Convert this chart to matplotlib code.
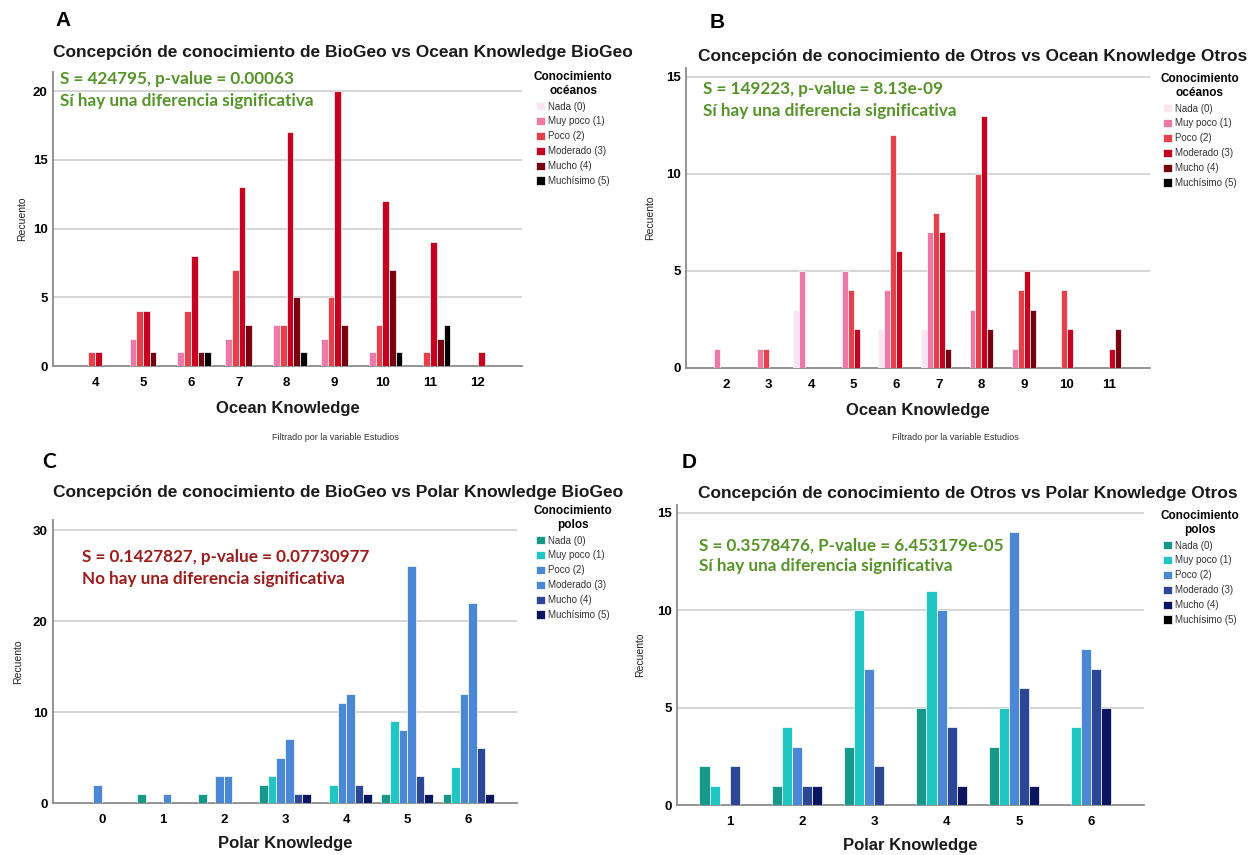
import matplotlib
matplotlib.use("Agg")
import matplotlib.pyplot as plt
import numpy as np

plt.rcParams['font.family'] = ['Liberation Sans', 'DejaVu Sans']

# categories of the legend (same six levels in every panel)
levels = ['Nada (0)', 'Muy poco (1)', 'Poco (2)', 'Moderado (3)', 'Mucho (4)', 'Muchísimo (5)']

# A - BioGeo vs Ocean Knowledge
a_x = [4, 5, 6, 7, 8, 9, 10, 11, 12]
a_nada = [0, 0, 0, 0, 0, 0, 0, 0, 0]
a_muypoco = [0, 2, 1, 2, 3, 2, 1, 0, 0]
a_poco = [1, 4, 4, 7, 3, 5, 3, 1, 0]
a_moderado = [1, 4, 8, 13, 17, 20, 12, 9, 1]
a_mucho = [0, 1, 1, 3, 5, 3, 7, 2, 0]
a_muchisimo = [0, 0, 1, 0, 1, 0, 1, 3, 0]

# B - Otros vs Ocean Knowledge
b_x = [2, 3, 4, 5, 6, 7, 8, 9, 10, 11]
b_nada = [0, 0, 3, 0, 2, 2, 0, 0, 0, 0]
b_muypoco = [1, 1, 5, 5, 4, 7, 3, 1, 0, 0]
b_poco = [0, 1, 0, 4, 12, 8, 10, 4, 4, 0]
b_moderado = [0, 0, 0, 2, 6, 7, 13, 5, 2, 1]
b_mucho = [0, 0, 0, 0, 0, 1, 2, 3, 0, 2]
b_muchisimo = [0, 0, 0, 0, 0, 0, 0, 0, 0, 0]

# C - BioGeo vs Polar Knowledge
c_x = [0, 1, 2, 3, 4, 5, 6]
c_nada = [0, 1, 1, 2, 0, 1, 1]
c_muypoco = [0, 0, 0, 3, 2, 9, 4]
c_poco = [2, 0, 3, 5, 11, 8, 12]
c_moderado = [0, 1, 3, 7, 12, 26, 22]
c_mucho = [0, 0, 0, 1, 2, 3, 6]
c_muchisimo = [0, 0, 0, 1, 1, 1, 1]

# D - Otros vs Polar Knowledge
d_x = [1, 2, 3, 4, 5, 6]
d_nada = [2, 1, 3, 5, 3, 0]
d_muypoco = [1, 4, 10, 11, 5, 4]
d_poco = [0, 3, 7, 10, 14, 8]
d_moderado = [2, 1, 2, 4, 6, 7]
d_mucho = [0, 1, 0, 1, 1, 5]
d_muchisimo = [0, 0, 0, 0, 0, 0]

ocean_colors = ['#fde4f2', '#ef78a6', '#e4414a', '#c6001f', '#760010', '#000000']
polar_c_colors = ['#17998a', '#20c6c2', '#4a88d6', '#4a88d6', '#2b4796', '#0b1660']
polar_d_colors = ['#17998a', '#20c6c2', '#4a88d6', '#2b4796', '#0b1660', '#000000']

GREEN = '#56942a'
DARKRED = '#9c1b1b'

W, H = 1253, 855
fig = plt.figure(figsize=(W / 100, H / 100), dpi=100)


def rect(l, t, r, b):
    return [l / W, 1 - b / H, (r - l) / W, (b - t) / H]


def draw_panel(box, x, series, colors, xlim, ylim, yticks, title, title_xy,
               letter, letter_xy, letter_font, xlabel, xlabel_y, stats, stats_xy,
               stats_color, leg_title, leg_xy, ylabel_x, filtro_xy=None, spacing=1.45):
    ax = fig.add_axes(rect(*box))
    x = np.array(x)
    w = 0.14
    for i, (vals, col) in enumerate(zip(series, colors)):
        ax.bar(x + (i - 2.5) * w, vals, width=w, color=col, edgecolor='white',
               linewidth=0.5, label=levels[i], zorder=3)
    ax.set_xlim(*xlim)
    ax.set_ylim(*ylim)
    ax.set_xticks(x)
    ax.set_yticks(yticks)
    for t in yticks[1:]:
        ax.axhline(t, color='#d2d2d2', lw=1.3, zorder=1)
    ax.tick_params(length=0, labelsize=9.5, pad=4)
    for lab in ax.get_xticklabels() + ax.get_yticklabels():
        lab.set_fontweight('bold')
    ax.tick_params(axis='x', pad=8)
    for s in ['top', 'right']:
        ax.spines[s].set_visible(False)
    for s in ['left', 'bottom']:
        ax.spines[s].set_color('#8a8a8a')
        ax.spines[s].set_linewidth(1.3)

    fig.text(title_xy[0] / W, 1 - title_xy[1] / H, title, ha='left', va='center',
             fontsize=12.5, fontweight='bold', color='#1a1a1a')
    fig.text(letter_xy[0] / W, 1 - letter_xy[1] / H, letter, ha='left', va='center',
             fontsize=15, fontweight='bold', family=letter_font)
    fig.text((box[0] + box[2]) / 2 / W, 1 - xlabel_y / H, xlabel, ha='center',
             va='center', fontsize=12, fontweight='bold', color='#1a1a1a')
    fig.text(ylabel_x / W, 1 - (box[1] + box[3]) / 2 / H, 'Recuento', rotation=90,
             ha='center', va='center', fontsize=7.5, color='#222222')
    fig.text(stats_xy[0] / W, 1 - stats_xy[1] / H, stats, ha='left', va='top',
             fontsize=12.3, fontweight='bold', color=stats_color, family='Lato',
             linespacing=spacing)
    if filtro_xy is not None:
        fig.text(filtro_xy[0] / W, 1 - filtro_xy[1] / H,
                 'Filtrado por la variable Estudios', ha='center', va='center',
                 fontsize=6.5, color='#333333')

    leg = ax.legend(loc='upper center', bbox_to_anchor=(leg_xy[0] / W, 1 - leg_xy[1] / H),
                    bbox_transform=fig.transFigure, frameon=False, fontsize=7,
                    title=leg_title, handlelength=0.9, handleheight=0.9,
                    handletextpad=0.3, labelspacing=0.5, borderpad=0)
    leg.get_title().set_fontweight('bold')
    leg.get_title().set_fontsize(8.5)
    leg.get_title().set_multialignment('center')
    leg._legend_box.align = 'center'
    for t in leg.get_texts():
        t.set_color('#333333')
    return ax


draw_panel((53, 72, 522, 366), a_x,
           [a_nada, a_muypoco, a_poco, a_moderado, a_mucho, a_muchisimo],
           ocean_colors, (3.12, 12.92), (0, 21.4), [0, 5, 10, 15, 20],
           'Concepción de conocimiento de BioGeo vs Ocean Knowledge BioGeo', (53, 52),
           'A', (55, 21), 'Liberation Sans', 'Ocean Knowledge', 408,
           'S = 424795, p-value = 0.00063\nSí hay una diferencia significativa', (60, 71),
           GREEN, 'Conocimiento\nocéanos', (573, 66), 22, filtro_xy=(335, 437))

draw_panel((686, 68, 1150, 368), b_x,
           [b_nada, b_muypoco, b_poco, b_moderado, b_mucho, b_muchisimo],
           ocean_colors, (1.06, 11.96), (0, 15.45), [0, 5, 10, 15],
           'Concepción de conocimiento de Otros vs Ocean Knowledge Otros', (698, 57),
           'B', (710, 22), 'Liberation Sans', 'Ocean Knowledge', 410,
           'S = 149223, p-value = 8.13e-09\nSí hay una diferencia significativa', (703, 81),
           GREEN, 'Conocimiento\nocéanos', (1200, 68), 650, filtro_xy=(955, 437))

draw_panel((53, 520, 517, 803), c_x,
           [c_nada, c_muypoco, c_poco, c_moderado, c_mucho, c_muchisimo],
           polar_c_colors, (-0.8, 6.8), (0, 31.1), [0, 10, 20, 30],
           'Concepción de conocimiento de BioGeo vs Polar Knowledge BioGeo', (53, 492),
           'C', (42, 462), 'Lato', 'Polar Knowledge', 843,
           'S = 0.1427827, p-value = 0.07730977\nNo hay una diferencia significativa', (82, 549),
           DARKRED, 'Conocimiento\npolos', (573, 500), 18)

draw_panel((677, 505, 1144, 805), d_x,
           [d_nada, d_muypoco, d_poco, d_moderado, d_mucho, d_muchisimo],
           polar_d_colors, (0.27, 6.73), (0, 15.4), [0, 5, 10, 15],
           'Concepción de conocimiento de Otros vs Polar Knowledge Otros', (698, 493),
           'D', (682, 462), 'Liberation Sans', 'Polar Knowledge', 845,
           'S = 0.3578476, P-value = 6.453179e-05\nSí hay una diferencia significativa', (699, 538),
           GREEN, 'Conocimiento\npolos', (1200, 505), 640, spacing=1.3)

fig.savefig('out.png', dpi=100, facecolor='white')
